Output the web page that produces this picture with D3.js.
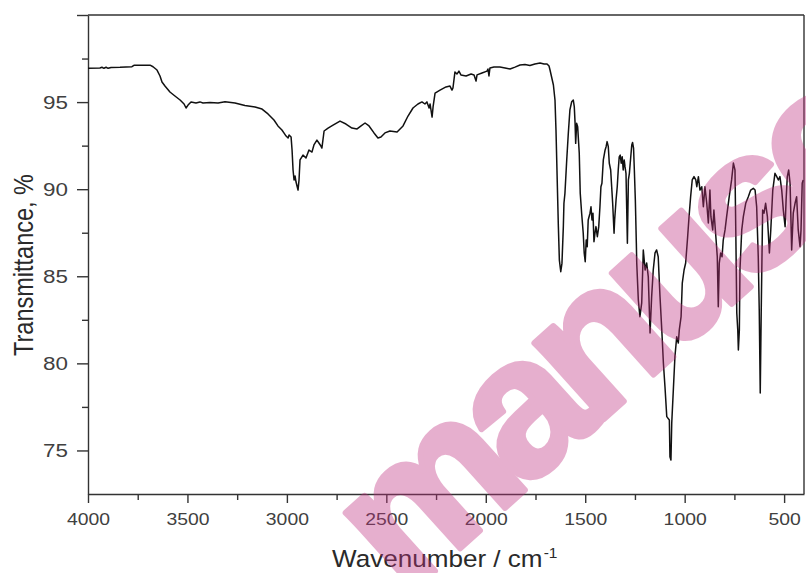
<!DOCTYPE html>
<html>
<head>
<meta charset="utf-8">
<script src="https://cdn.jsdelivr.net/npm/d3@7"></script>
<style>
  html, body { margin: 0; padding: 0; background: #ffffff; }
  svg { display: block; }
</style>
</head>
<body>
<svg id="chart" width="806" height="573"></svg>
<script>
// FTIR spectrum: wavenumber (cm-1) and transmittance (%)
const wavenumber = [
  4000, 3940, 3930, 3920, 3909, 3899, 3884, 3839, 3779, 3769, 3688, 3673, 3653, 3638, 3628, 3613,
  3588, 3563, 3537, 3517, 3507, 3497, 3482, 3457, 3437, 3422, 3387, 3346, 3311, 3261, 3211, 3160,
  3125, 3095, 3065, 3045, 3025, 3015, 3004, 2994, 2989, 2979, 2974, 2969, 2964, 2959, 2954, 2944,
  2939, 2934, 2919, 2904, 2889, 2874, 2864, 2849, 2839, 2829, 2824, 2813, 2793, 2768, 2733, 2703,
  2673, 2647, 2627, 2607, 2587, 2562, 2542, 2527, 2507, 2482, 2446, 2416, 2391, 2366, 2341, 2321,
  2306, 2296, 2285, 2280, 2270, 2265, 2255, 2230, 2200, 2180, 2170, 2165, 2155, 2145, 2135, 2125,
  2099, 2074, 2059, 2049, 2044, 2019, 1994, 1989, 1984, 1979, 1959, 1929, 1903, 1878, 1853, 1828,
  1803, 1778, 1753, 1727, 1707, 1692, 1682, 1677, 1660, 1652, 1647, 1640, 1635, 1630, 1623, 1617,
  1610, 1607, 1602, 1593, 1585, 1577, 1568, 1560, 1555, 1551, 1548, 1543, 1538, 1533, 1530, 1525,
  1518, 1510, 1505, 1500, 1495, 1490, 1485, 1476, 1471, 1466, 1461, 1456, 1451, 1446, 1439, 1432,
  1426, 1421, 1416, 1409, 1400, 1395, 1390, 1384, 1379, 1372, 1367, 1362, 1355, 1352, 1345, 1339,
  1334, 1329, 1324, 1319, 1314, 1309, 1304, 1300, 1295, 1288, 1283, 1278, 1271, 1266, 1262, 1257,
  1253, 1248, 1243, 1241, 1233, 1225, 1216, 1208, 1199, 1191, 1183, 1174, 1166, 1158, 1149, 1141,
  1133, 1124, 1115, 1107, 1099, 1090, 1077, 1074, 1069, 1065, 1057, 1049, 1040, 1032, 1027, 1018,
  1012, 1003, 995, 985, 978, 970, 962, 953, 944, 939, 931, 923, 914, 906, 898, 889,
  881, 873, 868, 859, 853, 842, 836, 831, 826, 819, 812, 806, 797, 789, 776, 764,
  755, 747, 743, 738, 733, 730, 725, 722, 713, 705, 693, 680, 668, 655, 646, 638,
  630, 625, 620, 615, 608, 601, 593, 584, 574, 567, 557, 546, 537, 529, 521, 512,
  504, 495, 490, 484, 477, 470, 462, 454, 445, 437, 429, 420, 415, 409, 404
];
const transmittance = [
  96.94, 96.96, 97.00, 96.94, 97.00, 96.94, 96.99, 97.00, 97.03, 97.11, 97.12, 97.03, 96.84, 96.50, 96.15, 95.92,
  95.58, 95.35, 95.12, 94.89, 94.66, 94.83, 95.01, 94.95, 95.01, 94.95, 94.98, 94.95, 95.02, 94.95, 94.80, 94.72,
  94.60, 94.32, 93.97, 93.63, 93.40, 93.23, 93.05, 92.94, 93.11, 93.00, 92.25, 91.10, 90.53, 90.76, 90.41, 89.95,
  90.53, 91.68, 91.96, 91.79, 92.25, 92.13, 92.54, 92.82, 92.65, 92.48, 92.36, 93.34, 93.51, 93.68, 93.91, 93.74,
  93.51, 93.46, 93.63, 93.80, 93.63, 93.23, 92.94, 93.00, 93.23, 93.34, 93.28, 93.63, 94.20, 94.66, 94.89, 95.01,
  94.89, 95.01, 94.66, 94.89, 94.14, 94.72, 95.52, 95.69, 95.87, 95.92, 95.69, 95.81, 96.73, 96.61, 96.78, 96.56,
  96.50, 96.61, 96.56, 96.21, 96.56, 96.67, 96.78, 96.90, 96.50, 96.96, 97.01, 97.01, 96.96, 96.90, 97.01, 97.13,
  97.16, 97.10, 97.19, 97.24, 97.19, 97.19, 97.07, 96.84, 95.98, 95.12, 93.40, 90.14, 87.85, 85.93, 85.26, 85.74,
  87.85, 89.19, 89.76, 91.68, 93.21, 94.55, 95.02, 95.12, 94.74, 93.78, 92.63, 93.78, 93.59, 92.63, 92.06, 89.76,
  88.62, 87.47, 86.32, 85.84, 87.08, 86.70, 88.23, 88.62, 88.99, 88.23, 88.62, 86.98, 87.47, 87.85, 87.27, 87.85,
  88.99, 90.14, 90.34, 91.68, 92.25, 92.44, 92.73, 92.44, 91.49, 91.10, 90.14, 89.19, 87.47, 88.23, 89.38, 90.14,
  91.10, 91.86, 91.96, 91.49, 91.86, 91.10, 91.68, 91.29, 90.91, 86.89, 90.53, 90.91, 91.86, 92.54, 92.68, 92.36,
  91.10, 89.38, 86.91, 85.76, 83.64, 82.68, 83.47, 86.51, 85.36, 85.76, 84.98, 81.74, 83.83, 85.36, 86.34, 86.51,
  86.12, 83.83, 81.92, 80.02, 78.66, 76.94, 76.75, 74.64, 74.45, 76.58, 78.47, 80.38, 81.53, 81.17, 81.92, 82.68,
  84.61, 85.36, 85.76, 87.27, 88.42, 89.57, 90.53, 90.72, 90.53, 90.14, 90.72, 89.95, 90.14, 88.99, 90.14, 89.19,
  88.06, 89.95, 88.42, 87.66, 88.80, 87.08, 86.12, 83.25, 85.76, 86.34, 86.12, 87.08, 87.66, 88.42, 89.57, 90.53,
  91.50, 91.10, 87.66, 82.89, 81.92, 80.77, 81.92, 85.36, 87.66, 88.42, 89.19, 89.57, 89.95, 90.05, 89.95, 88.99,
  86.12, 83.06, 78.30, 83.06, 88.80, 88.62, 89.19, 88.42, 86.34, 87.66, 89.95, 90.91, 90.72, 90.53, 90.72, 89.95,
  88.80, 87.85, 89.38, 90.72, 91.10, 90.34, 86.51, 88.62, 89.19, 89.57, 87.66, 86.70, 87.66, 90.34, 90.53
];

// Axis ticks and labels
const xMajorTicks = [4000, 3500, 3000, 2500, 2000, 1500, 1000, 500];
const xMinorTicks = [3750, 3250, 2750, 2250, 1750, 1250, 750];
const yMajorTicks = [75, 80, 85, 90, 95, 100];
const yLabelTicks = [75, 80, 85, 90, 95];
const yMinorTicks = [77.5, 82.5, 87.5, 92.5, 97.5];
const xTitleText = "Wavenumber / cm";
const xTitleSup = "-1";
const yTitleText = "Transmittance, %";
const stampText = "manuscript";

const svg = d3.select("#chart");
const W = 806, H = 573;
svg.append("rect").attr("width", W).attr("height", H).attr("fill", "#ffffff");

const x = d3.scaleLinear().domain([4000, 400]).range([88, 804]);
const y = d3.scaleLinear().domain([72.5, 100]).range([494, 15]);

const axisColor = "#333333";
const labelColor = "#404040";
const fontFam = "'Liberation Sans', Arial, Helvetica, sans-serif";

// Frame: top and right edges
svg.append("line").attr("x1", x(4000)).attr("x2", x(400)).attr("y1", y(100)).attr("y2", y(100))
  .attr("stroke", axisColor).attr("stroke-width", 1.4);
svg.append("line").attr("x1", x(400)).attr("x2", x(400)).attr("y1", y(100)).attr("y2", y(72.5))
  .attr("stroke", axisColor).attr("stroke-width", 1.4);

// Bottom axis
const gx = svg.append("g").attr("transform", `translate(0,${y(72.5)})`)
  .call(d3.axisBottom(x).tickValues(xMajorTicks).tickSize(9).tickSizeOuter(0).tickFormat(d3.format("d")));
svg.append("g").attr("transform", `translate(0,${y(72.5)})`)
  .call(d3.axisBottom(x).tickValues(xMinorTicks).tickSize(6).tickSizeOuter(0).tickFormat(""))
  .call(g => g.select(".domain").remove());

// Left axis
const gy = svg.append("g").attr("transform", `translate(${x(4000)},0)`)
  .call(d3.axisLeft(y).tickValues(yMajorTicks).tickSize(11).tickSizeOuter(0)
    .tickFormat(d => yLabelTicks.includes(d) ? String(d) : ""));
svg.append("g").attr("transform", `translate(${x(4000)},0)`)
  .call(d3.axisLeft(y).tickValues(yMinorTicks).tickSize(6).tickSizeOuter(0).tickFormat(""))
  .call(g => g.select(".domain").remove());

svg.selectAll(".domain, .tick line").attr("stroke", axisColor).attr("stroke-width", 1.4);

const xStretch = 1.14;
gx.selectAll(".tick text")
  .attr("y", 31).attr("dy", 0)
  .attr("transform", `scale(${xStretch},1)`)
  .attr("fill", labelColor)
  .style("font-family", fontFam).style("font-size", "17px");

const yStretch = 1.28;
gy.selectAll(".tick text")
  .attr("x", -20 / yStretch).attr("dy", "0.36em")
  .attr("transform", `scale(${yStretch},1)`)
  .attr("fill", labelColor)
  .style("font-family", fontFam).style("font-size", "17.5px");

// Spectrum trace
const pts = wavenumber.map((w, i) => [w, transmittance[i]]);
svg.append("path")
  .datum(pts)
  .attr("fill", "none")
  .attr("stroke", "#111111")
  .attr("stroke-width", 1.5)
  .attr("stroke-linejoin", "round")
  .attr("d", d3.line().x(d => x(d[0])).y(d => y(d[1])));

// Axis titles
const xt = svg.append("text")
  .attr("transform", `translate(332,566.5) scale(1.11,1)`)
  .attr("fill", "#2a2a2a")
  .style("font-family", fontFam).style("font-size", "23.5px");
xt.append("tspan").text(xTitleText);
xt.append("tspan").attr("dy", -9).attr("dx", 1).style("font-size", "14px").text(xTitleSup);

svg.append("text")
  .attr("transform", `translate(33,265) scale(1.14,1) rotate(-90)`)
  .attr("text-anchor", "middle")
  .attr("fill", "#2a2a2a")
  .style("font-family", fontFam).style("font-size", "23.5px")
  .text(yTitleText);

// Diagonal stamp across the plot (semi-transparent, heavy lettering)
svg.append("g")
  .attr("opacity", 0.38)
  .append("text")
  .attr("transform", `translate(405,598) rotate(-42)`)
  .attr("fill", "#c0307f")
  .attr("stroke", "#c0307f")
  .attr("stroke-width", 6)
  .attr("stroke-linejoin", "round")
  .style("font-family", fontFam).style("font-weight", "bold").style("font-size", "195px")
  .style("letter-spacing", "-14px")
  .text(stampText);
</script>
</body>
</html>
